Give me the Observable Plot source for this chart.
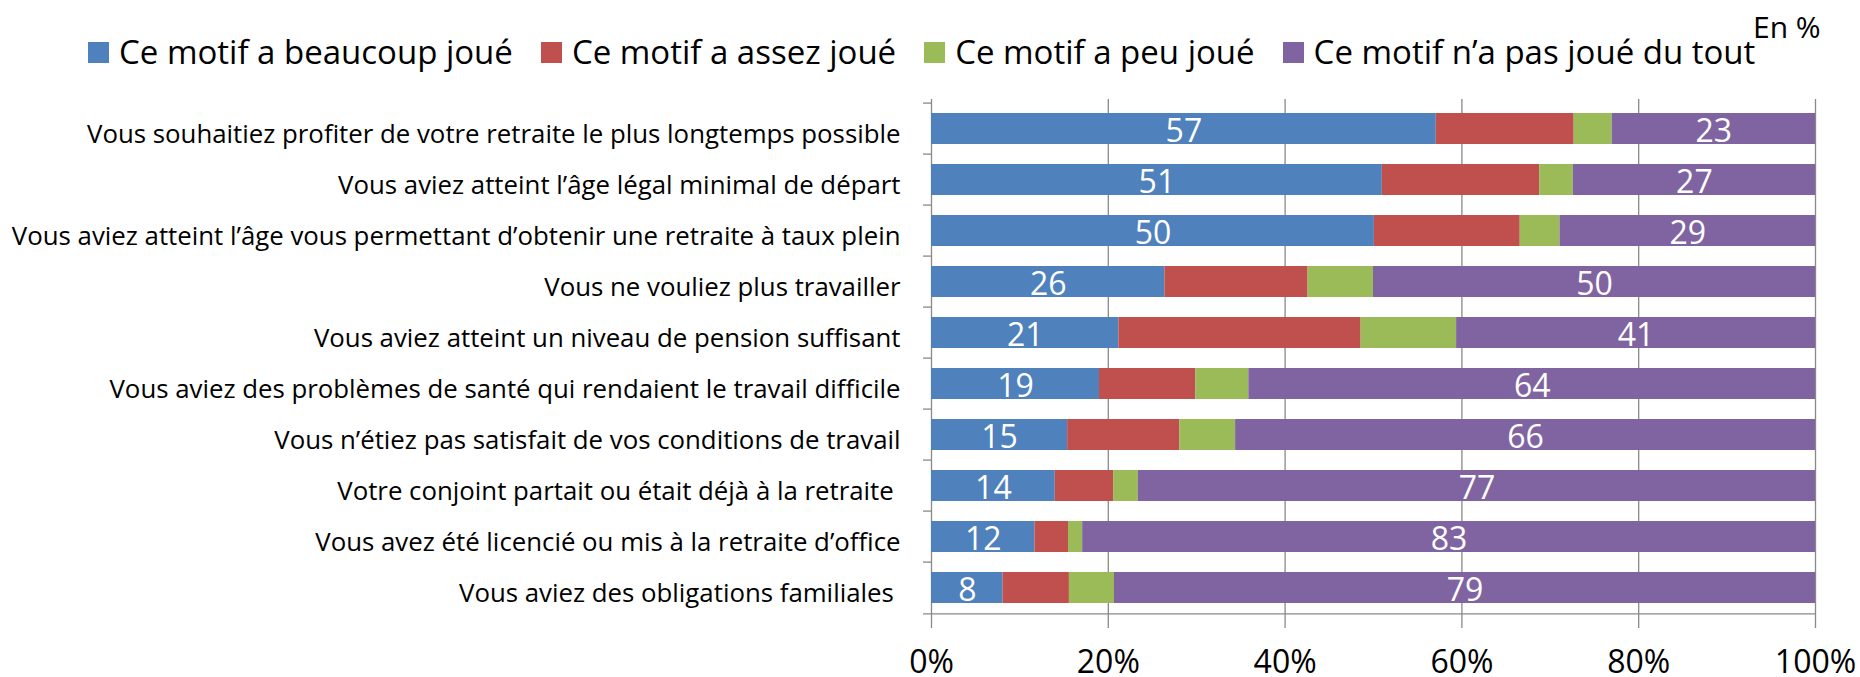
<!DOCTYPE html>
<html>
<head>
<meta charset="utf-8">
<script src="https://cdn.jsdelivr.net/npm/d3@7"></script>
<script src="https://cdn.jsdelivr.net/npm/@observablehq/plot@0.6"></script>
<style>
  html, body { margin: 0; padding: 0; background: #fff; }
  #wrap { position: relative; width: 1860px; height: 677px; overflow: hidden; font-family: "Open Sans", sans-serif; color: #000; }
  #legend { position: relative; height: 85px; }
  #legend .items { position: absolute; left: 88px; top: 30px; display: flex; align-items: center; font-size: 33px; line-height: 44px; }
  #legend .item { display: flex; align-items: center; margin-right: 28px; white-space: nowrap; }
  #legend .sw { width: 21px; height: 21px; margin-right: 10px; flex: none; }
  #unit { position: absolute; left: 1753px; top: 9px; font-size: 30px; line-height: 36px; }
  #chart svg { display: block; }
</style>
</head>
<body>
<div id="wrap">
  <div id="legend"><div class="items"></div><div id="unit"></div></div>
  <div id="chart"></div>
</div>
<script>
const categories = [
  "Vous souhaitiez profiter de votre retraite le plus longtemps possible",
  "Vous aviez atteint l’âge légal minimal de départ",
  "Vous aviez atteint l’âge vous permettant d’obtenir une retraite à taux plein",
  "Vous ne vouliez plus travailler",
  "Vous aviez atteint un niveau de pension suffisant",
  "Vous aviez des problèmes de santé qui rendaient le travail difficile",
  "Vous n’étiez pas satisfait de vos conditions de travail",
  "Votre conjoint partait ou était déjà à la retraite\u00a0",
  "Vous avez été licencié ou mis à la retraite d’office",
  "Vous aviez des obligations familiales\u00a0"
];
const series = [
  "Ce motif a beaucoup joué",
  "Ce motif a assez joué",
  "Ce motif a peu joué",
  "Ce motif n’a pas joué du tout"
];
const beaucoup  = [57.1, 51.0, 50.1, 26.4, 21.2, 19.0, 15.4, 14.0, 11.7, 8.1];
const assez     = [15.6, 17.8, 16.5, 16.2, 27.4, 10.9, 12.7, 6.6, 3.8, 7.5];
const peu       = [4.3, 3.8, 4.5, 7.4, 10.8, 6.0, 6.3, 2.8, 1.6, 5.1];
const pasDuTout = [23.0, 27.4, 28.9, 50.0, 40.6, 64.1, 65.6, 76.6, 82.9, 79.3];
const labelledSeries = [series[0], series[3]];
const xTicks = [0, 20, 40, 60, 80, 100];
const unitLabel = "En %";
const colors = ["#4F81BD", "#C0504D", "#9BBB59", "#8064A2"];

const seriesValues = [beaucoup, assez, peu, pasDuTout];
const data = [];
categories.forEach((cat, i) => {
  series.forEach((s, j) => data.push({cat, series: s, value: seriesValues[j][i]}));
});

// legend
const items = d3.select("#legend .items");
series.forEach((s, j) => {
  const it = items.append("div").attr("class", "item");
  it.append("div").attr("class", "sw").style("background", colors[j]);
  it.append("span").text(s);
});
d3.select("#unit").text(unitLabel);

const W = 1860, H = 592, mT = 14, mB = 60, mL = 931, mR = 45;
const step = (H - mT - mB) / categories.length;
const grid = "#898989";

const chart = Plot.plot({
  width: W, height: H,
  marginTop: mT, marginBottom: mB, marginLeft: mL, marginRight: mR,
  style: {fontFamily: "'Open Sans', sans-serif", background: "transparent", overflow: "visible"},
  x: {domain: [0, 100]},
  y: {domain: categories, paddingInner: 0.4, paddingOuter: 0.2},
  color: {domain: series, range: colors},
  marks: [
    Plot.ruleX(xTicks, {stroke: grid, strokeWidth: 1.3}),
    Plot.ruleY(categories, {x1: -0.9, x2: 0, dy: -step / 2, stroke: grid, strokeWidth: 1.3}),
    Plot.ruleY(categories.slice(-1), {x1: -0.9, x2: 100, dy: step / 2, stroke: grid, strokeWidth: 1.3}),
    Plot.barX(data, {x: "value", y: "cat", fill: "series"}),
    Plot.text(data, Plot.stackX({
      x: "value", y: "cat", z: "series",
      text: d => labelledSeries.includes(d.series) ? String(Math.round(d.value)) : null,
      fill: "white", fontSize: 32, dy: 3
    })),
    Plot.axisX({ticks: xTicks, tickFormat: d => d + "%", tickSize: 11, tickPadding: 22,
      fontSize: 32, stroke: grid, strokeWidth: 1.3, fill: "black", label: null}),
    Plot.axisY({tickSize: 0, tickPadding: 31, fontSize: 25.8, dy: 6, fill: "black", label: null})
  ]
});
document.getElementById("chart").appendChild(chart);
</script>
</body>
</html>
